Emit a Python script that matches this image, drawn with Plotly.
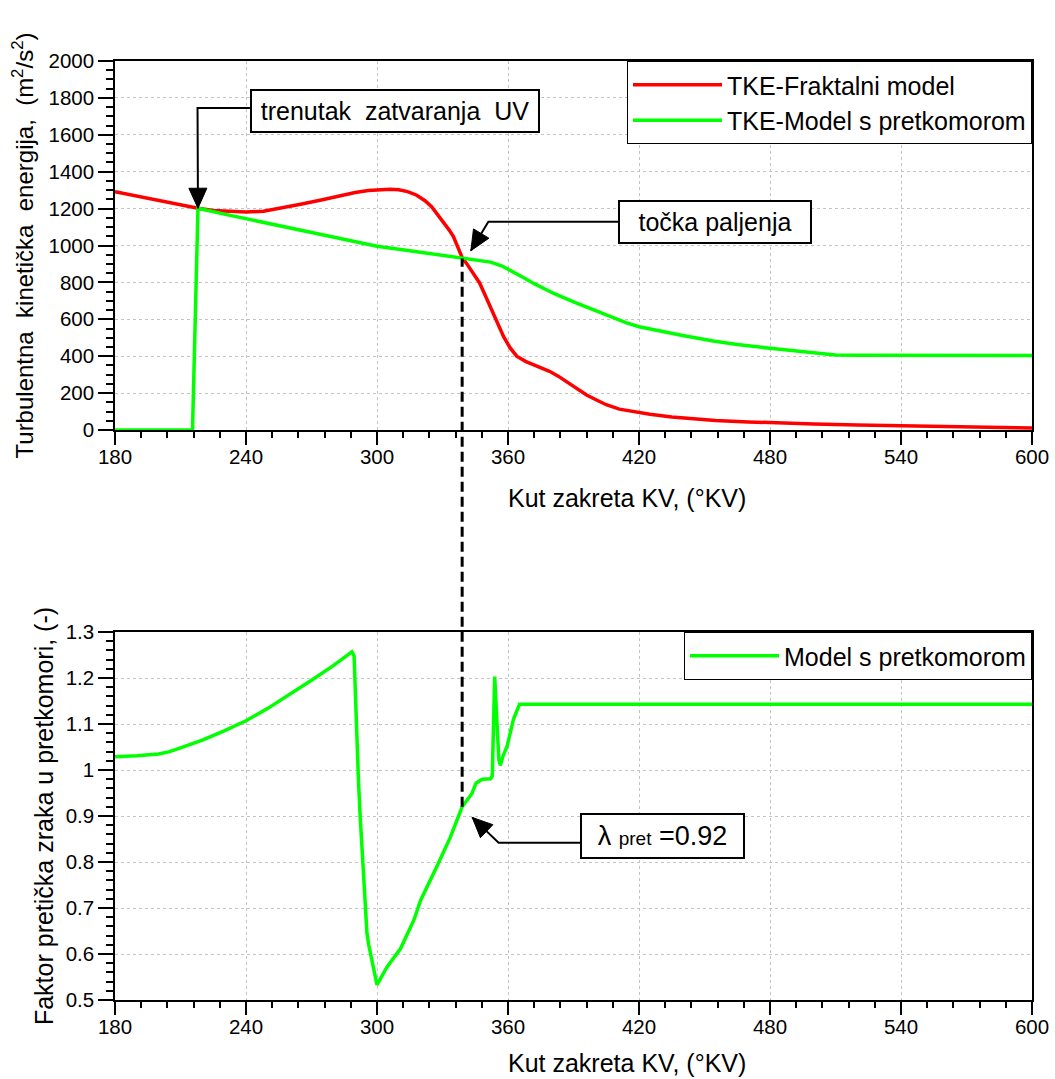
import math
import plotly.graph_objects as go

# ---------------- data ----------------
frakt_angle = [180, 190, 200, 210, 218, 225, 233, 240, 248, 256, 265, 275, 283, 290, 296,
               301, 306, 310, 314, 318, 322, 325, 328, 331, 333, 335, 337, 339, 341, 343,
               345, 347, 350, 353, 356, 358, 361, 364, 368, 372, 376, 379, 383, 387, 391,
               396, 401, 405, 411, 417, 425, 435, 445, 455, 470, 485, 500, 520, 540, 560,
               580, 600]
frakt_tke = [1292, 1268, 1245, 1222, 1202, 1190, 1183, 1181, 1186, 1202, 1224, 1248, 1270, 1287, 1298,
             1302, 1305, 1302, 1292, 1274, 1243, 1210, 1165, 1118, 1085, 1048, 995, 935, 903, 870,
             834, 797, 718, 640, 565, 506, 445, 400, 372, 352, 334, 318, 292, 262, 230,
             190, 160, 137, 113, 99, 85, 70, 60, 52, 44, 36, 32, 27, 23, 18,
             14, 11]

pret_angle = [180, 200, 215.5, 216.5, 217.5, 218, 230, 240, 250, 260, 270, 280, 290, 300,
              310, 320, 330, 339, 345, 352, 357, 362, 367, 372, 377, 381, 390, 400, 408,
              414, 420, 430, 440, 454, 465, 480, 492, 503, 510, 520, 540, 560, 580, 600]
pret_tke = [0, 0, 0, 480, 960, 1202, 1170, 1145, 1118, 1092, 1068, 1045, 1020, 996,
            980, 963, 947, 932, 923, 910, 890, 860, 827, 793, 762, 740, 695, 647, 607,
            582, 560, 535, 512, 482, 463, 443, 430, 417, 407, 405, 405, 404, 404, 404]

lam_angle = [180, 190, 200, 205, 210, 220, 230, 240, 250, 260, 270, 280, 286, 288.5,
             289.5, 290.5, 291.5, 292.3, 293.8, 295.4, 296.2, 300, 304.6, 310.8, 316.9, 320,
             327.3, 333.5, 339, 343.5, 345.4, 348.2, 352, 352.8, 353.9, 355, 355.8, 356.5,
             357.7, 359.6, 362.5, 365.3, 400, 480, 600]
lam_pret = [1.029, 1.031, 1.035, 1.040, 1.048, 1.065, 1.085, 1.107, 1.134, 1.164, 1.195, 1.227, 1.248, 1.257,
            1.248, 1.10, 0.978, 0.898, 0.768, 0.645, 0.62, 0.533, 0.572, 0.612, 0.674, 0.717,
            0.789, 0.853, 0.92, 0.949, 0.972, 0.980, 0.981, 0.987, 1.203, 1.09, 1.023, 1.01,
            1.03, 1.052, 1.11, 1.143, 1.143, 1.143, 1.143]

ignition_angle = 339
ignition_tke = 930
ignition_lambda = 0.92
ivc_angle = 218
ivc_tke = 1202

x_range = [180, 600]
tke_range = [0, 2000]
lam_range = [0.5, 1.3]

# ---------------- layout geometry ----------------
W, H = 1055, 1079
ML, MR, MT, MB = 115, 23, 61, 79
PH = H - MT - MB
PW = W - ML - MR
top_dom = [(1000 - 430) / PH, 1.0]
bot_dom = [0.0, (1000 - 632) / PH]

FONT = "Liberation Sans, Arial, sans-serif"
RED = "#ff0000"
GREEN = "#00ff00"
TICKSIZE = 20.5

fig = go.Figure()
fig.add_trace(go.Scatter(x=frakt_angle, y=frakt_tke, mode="lines", name="TKE-Fraktalni model",
                         line=dict(color=RED, width=3.5), xaxis="x", yaxis="y", legend="legend"))
fig.add_trace(go.Scatter(x=pret_angle, y=pret_tke, mode="lines", name="TKE-Model s pretkomorom",
                         line=dict(color=GREEN, width=3.5), xaxis="x", yaxis="y", legend="legend"))
fig.add_trace(go.Scatter(x=lam_angle, y=lam_pret, mode="lines", name="Model s pretkomorom",
                         line=dict(color=GREEN, width=3.5), xaxis="x2", yaxis="y2", legend="legend2"))


def xaxis(anchor):
    return dict(range=x_range, tick0=180, dtick=60, ticks="outside", ticklen=13, tickwidth=1.5,
                tickcolor="black", showline=True, linecolor="black", linewidth=1.5, mirror=True,
                showgrid=True, gridcolor="#c4c4c4", griddash="dot", gridwidth=1, zeroline=False,
                anchor=anchor, domain=[0, 1], ticklabelstandoff=-5, ticklabeloverflow="allow",
                automargin=False,
                minor=dict(dtick=12, ticks="outside", ticklen=6, tickcolor="black", tickwidth=1.5,
                           showgrid=False),
                tickfont=dict(size=TICKSIZE, color="black", family=FONT))


def yaxis(rng, dt, mdt, dom, anchor, title, tsize, standoff):
    return dict(range=rng, dtick=dt, ticks="outside", ticklen=15, tickwidth=1.5, tickcolor="black",
                showline=True, linecolor="black", linewidth=1.5, mirror=True,
                showgrid=True, gridcolor="#c4c4c4", griddash="dot", gridwidth=1, zeroline=False,
                domain=dom, anchor=anchor, ticklabeloverflow="allow", automargin=False,
                minor=dict(dtick=mdt, ticks="outside", ticklen=7, tickcolor="black", tickwidth=1.5,
                           showgrid=False),
                tickfont=dict(size=TICKSIZE, color="black", family=FONT),
                title=dict(text=title, font=dict(size=tsize, color="black", family=FONT),
                           standoff=standoff))


fig.update_layout(
    width=W, height=H, margin=dict(l=ML, r=MR, t=MT, b=MB, autoexpand=False),
    paper_bgcolor="white", plot_bgcolor="white",
    font=dict(family=FONT, color="black"),
    xaxis=xaxis("y"),
    yaxis=yaxis(tke_range, 200, 50, top_dom, "x",
                "Turbulentna\u00a0 kinetička\u00a0 energija,\u00a0 (m<sup>2</sup>/s<sup>2</sup>)", 24, 8),
    xaxis2=xaxis("y2"),
    yaxis2=yaxis(lam_range, 0.1, 0.02, bot_dom, "x2",
                 "Faktor pretička zraka u pretkomori, (-)", 25, 5),
    legend=dict(x=1, y=1, xanchor="right", yanchor="top", bgcolor="white",
                bordercolor="black", borderwidth=1, itemwidth=89,
                font=dict(size=25, color="black", family=FONT)),
    legend2=dict(x=1, y=bot_dom[1], xanchor="right", yanchor="top", bgcolor="white",
                 bordercolor="black", borderwidth=1, itemwidth=89,
                 font=dict(size=25, color="black", family=FONT)),
    showlegend=True,
)

# x-axis titles
for yref, yy in (("y domain", -0.184), ("y2 domain", -0.171)):
    fig.add_annotation(text="Kut zakreta KV, (°KV)", xref="x", x=414.5, yref=yref, y=yy,
                       showarrow=False, xanchor="center", yanchor="middle",
                       font=dict(size=25, color="black", family=FONT))

# dashed ignition line across both panels
y_bot = bot_dom[0] + (ignition_lambda - lam_range[0]) / (lam_range[1] - lam_range[0]) * (bot_dom[1] - bot_dom[0])
y_top = top_dom[0] + (ignition_tke - tke_range[0]) / (tke_range[1] - tke_range[0]) * (top_dom[1] - top_dom[0])
fig.add_shape(type="line", xref="x", yref="paper", x0=ignition_angle, x1=ignition_angle,
              y0=y_bot, y1=y_top, line=dict(color="black", width=3, dash="10px,5px"), layer="above")

ABOX = dict(showarrow=False, bgcolor="white", bordercolor="black", borderwidth=2, borderpad=0,
            font=dict(size=25, color="black", family=FONT), align="center")

# pixel scales (used only to orient the arrow heads)
sx = PW / (x_range[1] - x_range[0])
sy_top = (top_dom[1] - top_dom[0]) * PH / (tke_range[1] - tke_range[0])
sy_bot = (bot_dom[1] - bot_dom[0]) * PH / (lam_range[1] - lam_range[0])


def elbow_arrow(xref, yref, sy, box_left, elbow, tip, head_len=20, head_w=18):
    # leader line: box edge -> elbow -> tip (data coordinates)
    path = "M{},{} L{},{} L{},{}".format(box_left[0], box_left[1], elbow[0], elbow[1], tip[0], tip[1])
    fig.add_shape(type="path", path=path, xref=xref, yref=yref,
                  line=dict(color="black", width=2), layer="above")
    # filled arrow head, sized in pixels, anchored at the tip
    dx = (tip[0] - elbow[0]) * sx
    dy = (tip[1] - elbow[1]) * sy
    n = math.hypot(dx, dy)
    ux, uy = dx / n, dy / n
    bx, by = -ux * head_len, -uy * head_len
    px, py = -uy * head_w / 2, ux * head_w / 2
    hp = "M0,0 L{:.2f},{:.2f} L{:.2f},{:.2f} Z".format(bx + px, by + py, bx - px, by - py)
    fig.add_shape(type="path", path=hp, xref=xref, yref=yref, xsizemode="pixel", ysizemode="pixel",
                  xanchor=tip[0], yanchor=tip[1], fillcolor="black",
                  line=dict(color="black", width=1), layer="above")


# annotation 1: trenutak zatvaranja UV
fig.add_annotation(text="trenutak\u00a0 zatvaranja\u00a0 UV", x=308.3, y=1729, xref="x", yref="y",
                   width=286, height=40, **ABOX)
elbow_arrow("x", "y", sy_top, (241.8, 1745), (217.8, 1745), (ivc_angle, ivc_tke))

# annotation 2: točka paljenja
fig.add_annotation(text="točka paljenja", x=454.9, y=1127, xref="x", yref="y",
                   width=190, height=40, **ABOX)
elbow_arrow("x", "y", sy_top, (410.5, 1129), (351, 1129), (343, 972))

# annotation 3: lambda
fig.add_annotation(text="λ <span style='font-size:19px'>pret</span> =0.92", x=430.8, y=0.8565,
                   xref="x2", yref="y2", width=161, height=42,
                   **{**ABOX, "font": dict(size=27, color="black", family=FONT)})
elbow_arrow("x2", "y2", sy_bot, (394.1, 0.842), (355.7, 0.842), (343.6, 0.897))

fig.write_html("out.html", config={"displayModeBar": False},
               post_script="document.body.style.margin='0';document.body.style.overflow='hidden';")
